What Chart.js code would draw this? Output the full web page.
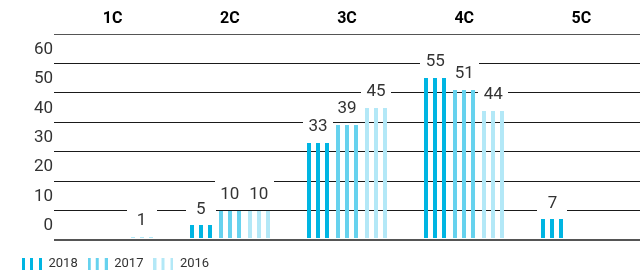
<!DOCTYPE html>
<html>
<head>
<meta charset="utf-8">
<script src="https://cdn.jsdelivr.net/npm/chart.js@4.4.1/dist/chart.umd.min.js"></script>
<style>
  html, body { margin: 0; padding: 0; background: #fff; }
  #wrap { width: 641px; height: 272px; }
</style>
</head>
<body>
<div id="wrap"><canvas id="chart" width="641" height="272"></canvas></div>
<script>
// data
const categories = ["1C", "2C", "3C", "4C", "5C"]
const seriesLabels = ["2018", "2017", "2016"]
const values2018 = [null, 5, 33, 55, 7]
const values2017 = [null, 10, 39, 51, null]
const values2016 = [1, 10, 45, 44, null]
const yTickLabels = [0, 10, 20, 30, 40, 50, 60]

const colors = ["#00b5e2", "#66d2ee", "#b3e8f7"]
const textColor = "#333"

Chart.defaults.font.family = "Roboto, 'Noto Sans', sans-serif"

// small striped swatch used as the legend marker
function stripeIcon(color) {
  const c = document.createElement("canvas")
  c.width = 20
  c.height = 12
  const g = c.getContext("2d")
  g.fillStyle = color
  ;[0, 8, 17].forEach(x => g.fillRect(x, 0, 3, 12))
  return c
}
const legendIcons = colors.map(stripeIcon)

// bars are drawn as three vertical stripes instead of a solid block
const stripedBars = {
  id: "stripedBars",
  beforeDatasetDraw(chart, args) {
    const ctx = chart.ctx
    const ds = chart.data.datasets[args.index]
    ctx.save()
    ctx.fillStyle = ds.backgroundColor
    args.meta.data.forEach((bar, i) => {
      if (ds.data[i] == null) return
      const { x, y, base, width } = bar.getProps(["x", "y", "base", "width"], true)
      const w = Math.round(width)
      const left = Math.round(x - width / 2)
      const s = Math.round(w * 4 / 22)
      const top = Math.round(y)
      const h = Math.round(base) - 1 - top
      ;[left, left + Math.round((w - s) / 2), left + w - s].forEach(sx => ctx.fillRect(sx, top, s, h))
    })
    ctx.restore()
    return false
  }
}

// value labels on a white box that cuts through the grid lines
const valueLabels = {
  id: "valueLabels",
  afterDatasetsDraw(chart) {
    const ctx = chart.ctx
    ctx.save()
    ctx.font = "17px Roboto, 'Noto Sans', sans-serif"
    ctx.textAlign = "center"
    ctx.textBaseline = "middle"
    chart.data.datasets.forEach((ds, di) => {
      const meta = chart.getDatasetMeta(di)
      meta.data.forEach((bar, i) => {
        const v = ds.data[i]
        if (v == null) return
        const cx = bar.x
        const cy = bar.y - 17
        ctx.fillStyle = "#fff"
        ctx.fillRect(Math.round(cx - 15), Math.round(cy - 13), 30, 26)
        ctx.fillStyle = textColor
        ctx.fillText(String(v), cx, cy + 1)
      })
    })
    ctx.restore()
  }
}

// push the legend row a little lower than Chart.js puts it
const legendShift = {
  id: "legendShift",
  afterLayout(chart) {
    if (!chart.legend) return
    chart.legend.top += 7
    chart.legend.bottom += 7
  }
}

new Chart(document.getElementById("chart"), {
  type: "bar",
  data: {
    labels: categories,
    datasets: [
      { label: seriesLabels[0], data: values2018, backgroundColor: colors[0] },
      { label: seriesLabels[1], data: values2017, backgroundColor: colors[1] },
      { label: seriesLabels[2], data: values2016, backgroundColor: colors[2] }
    ]
  },
  options: {
    responsive: false,
    animation: false,
    categoryPercentage: 0.742,
    barPercentage: 0.759,
    layout: { padding: { left: 12, right: 1, top: 0, bottom: -1 } },
    scales: {
      x: {
        position: "top",
        grid: { display: false, drawTicks: false },
        border: { display: false },
        ticks: {
          padding: 5,
          color: "#000",
          font: { size: 16, weight: "bold" }
        },
        afterFit: (scale) => { scale.height = 34 }
      },
      y: {
        min: 0,
        max: 70,
        border: { display: false },
        grid: {
          drawTicks: false,
          color: (c) => (c.tick.value === 0 || c.tick.value === 70) ? "#555" : "#1a1a1a",
          lineWidth: (c) => c.tick.value === 0 ? 2 : 1
        },
        ticks: {
          stepSize: 10,
          padding: 1,
          labelOffset: -14,
          color: textColor,
          font: { size: 17 },
          callback: (v) => yTickLabels.includes(v) ? String(v) : ""
        },
        afterFit: (scale) => { scale.width = 42 }
      }
    },
    plugins: {
      tooltip: { enabled: false },
      legend: {
        position: "bottom",
        align: "start",
        labels: {
          usePointStyle: true,
          pointStyleWidth: 20,
          boxHeight: 12,
          padding: 10,
          color: textColor,
          font: { size: 13 },
          generateLabels: (chart) =>
            Chart.defaults.plugins.legend.labels.generateLabels(chart).map((item, i) => ({
              ...item,
              pointStyle: legendIcons[i],
              fontColor: textColor
            }))
        }
      }
    }
  },
  plugins: [stripedBars, valueLabels, legendShift]
})
</script>
</body>
</html>
